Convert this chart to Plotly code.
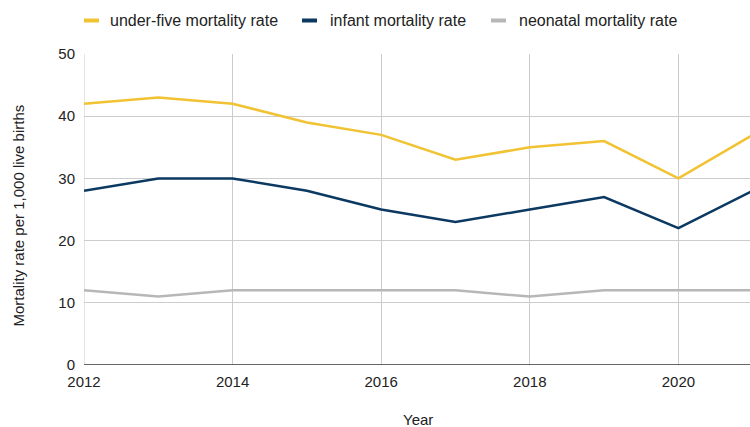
import plotly.graph_objects as go

years = [2012, 2013, 2014, 2015, 2016, 2017, 2018, 2019, 2020, 2021]
under_five = [42, 43, 42, 39, 37, 33, 35, 36, 30, 37]
infant = [28, 30, 30, 28, 25, 23, 25, 27, 22, 28]
neonatal = [12, 11, 12, 12, 12, 12, 11, 12, 12, 12]

series_names = ["under-five mortality rate", "infant mortality rate", "neonatal mortality rate"]
series_values = [under_five, infant, neonatal]
colors = ["#f1c232", "#0b3961", "#b7b7b7"]

x_ticks = [2012, 2014, 2016, 2018, 2020]
y_ticks = [0, 10, 20, 30, 40, 50]

x_title = "Year"
y_title = "Mortality rate per 1,000 live births"

FONT = "Liberation Sans, Arial, sans-serif"
FS = 15

fig = go.Figure()
for name, vals, col in zip(series_names, series_values, colors):
    fig.add_trace(go.Scatter(x=years, y=vals, name=name, mode="lines",
                             line=dict(color=col, width=2.5), showlegend=False))

L, R = 84, 750
T, B = 54, 365
W, H = R - L, B - T
def px(xp):
    return (xp - L) / W
def py(yp):
    return (B - yp) / H

legend_pos = [(84, 108), (302, 328), (491, 517)]
for (sx, tx), name, col in zip(legend_pos, series_names, colors):
    fig.add_shape(type="rect", xref="paper", yref="paper",
                  x0=px(sx), x1=px(sx + 15), y0=py(22.5), y1=py(18.5),
                  fillcolor=col, line=dict(width=0))
    fig.add_annotation(xref="paper", yref="paper", x=px(tx), y=py(20.5),
                       text=name, showarrow=False, xanchor="left", yanchor="middle",
                       font=dict(family=FONT, size=16, color="#222222"))

# axis titles
fig.add_annotation(xref="paper", yref="paper", x=px(18), y=py(215.5),
                   text=y_title, textangle=-90, showarrow=False,
                   xanchor="center", yanchor="middle",
                   font=dict(family=FONT, size=FS, color="#222222"))
fig.add_annotation(xref="paper", yref="paper", x=px(418), y=py(419.5),
                   text=x_title, showarrow=False, borderpad=0,
                   xanchor="center", yanchor="middle",
                   font=dict(family=FONT, size=FS, color="#222222"))

fig.update_layout(
    width=750, height=427,
    margin=dict(l=L, r=750 - R, t=T, b=427 - B),
    plot_bgcolor="white", paper_bgcolor="white",
    font=dict(family=FONT, size=FS, color="#222222"),
    xaxis=dict(range=[2012, 2012 + W / 74.3], tickvals=x_ticks,
               ticktext=[str(v) for v in x_ticks],
               showgrid=True, gridcolor="#cccccc", gridwidth=1,
               zeroline=False, showline=False, automargin=False,
               ticks="outside", ticklen=3, tickcolor="rgba(0,0,0,0)"),
    yaxis=dict(range=[0, 50], tickvals=y_ticks,
               showgrid=True, gridcolor="#cccccc", gridwidth=1,
               zeroline=False, showline=False, automargin=False,
               ticks="outside", ticklen=5, tickcolor="rgba(0,0,0,0)"),
)
fig.add_shape(type="line", xref="x", yref="paper", x0=2012, x1=2012, y0=0, y1=1,
              line=dict(color="#cccccc", width=1), layer="below")
fig.add_shape(type="line", xref="paper", yref="y", x0=0, x1=1, y0=0, y1=0,
              line=dict(color="#333333", width=1.5))

fig.write_html(
    "out.html",
    config={"displayModeBar": False},
    post_script=(
        "document.documentElement.style.margin='0';"
        "document.body.style.margin='0';"
        "document.documentElement.style.overflow='hidden';"
        "document.body.style.overflow='hidden';"
    ),
)
